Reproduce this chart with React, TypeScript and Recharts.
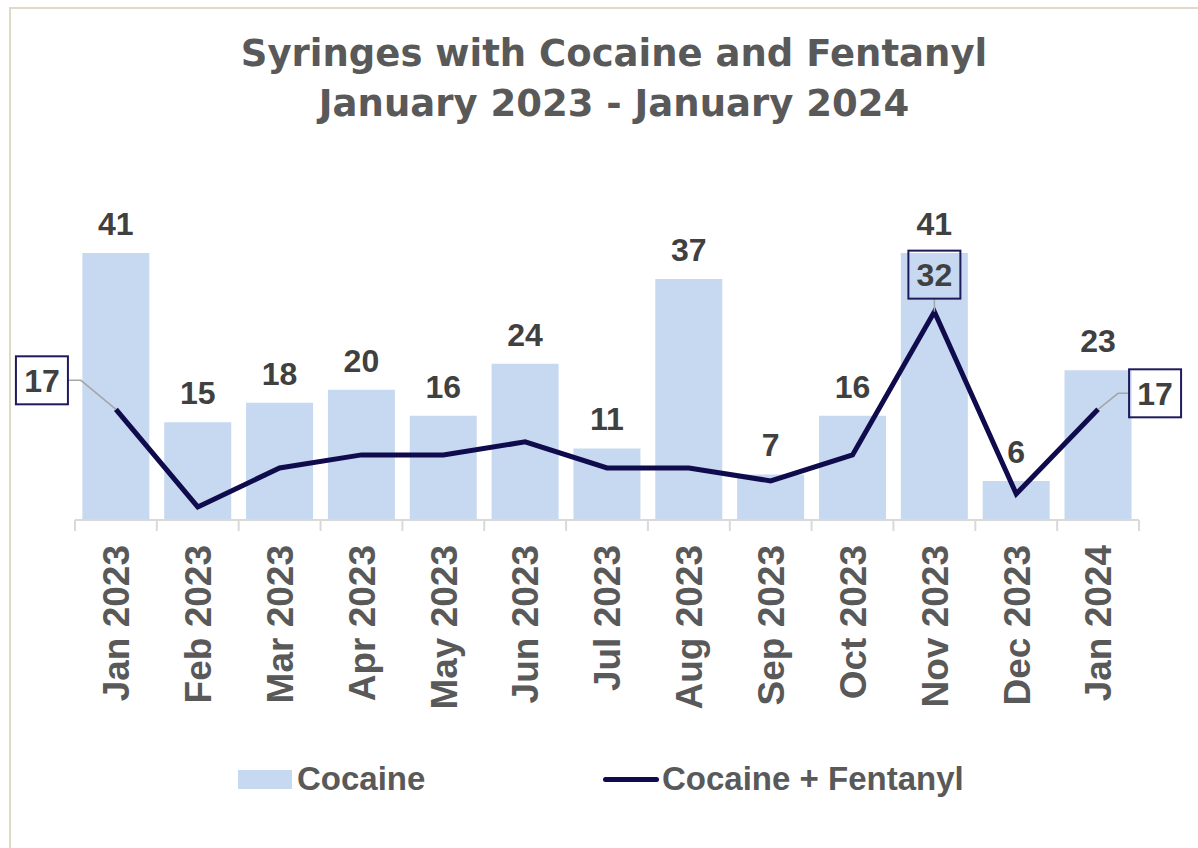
import React from "react";
import { ComposedChart, Bar, Line, XAxis, YAxis, LabelList } from "recharts";

const months = [
  "Jan 2023", "Feb 2023", "Mar 2023", "Apr 2023", "May 2023", "Jun 2023", "Jul 2023",
  "Aug 2023", "Sep 2023", "Oct 2023", "Nov 2023", "Dec 2023", "Jan 2024",
];
const cocaine = [41, 15, 18, 20, 16, 24, 11, 37, 7, 16, 41, 6, 23];
const cocaineFentanyl = [17, 2, 8, 10, 10, 12, 8, 8, 6, 10, 32, 4, 17];
const calloutIndexes = [0, 10, 12];

const data = months.map((m, i) => ({ month: m, cocaine: cocaine[i], cf: cocaineFentanyl[i] }));

const TITLE_FONT = "'Century Gothic', 'DejaVu Sans', sans-serif";
const FONT = "'Century Gothic', 'Liberation Sans', Arial, sans-serif";
const TEXT = "#595959";
const LABEL = "#404040";
const BAR = "#C6D9F0";
const LINE = "#0F0B4D";

const AxisTick = (props: any) => {
  const { x, y, payload, index } = props;
  const half = payload && payload.offset ? payload.offset : 41;
  const yAxis = 520;
  return (
    <g>
      <line x1={x - half} y1={yAxis} x2={x - half} y2={yAxis + 11} stroke="#D9D9D9" strokeWidth={2} />
      {index === months.length - 1 && (
        <line x1={x + half} y1={yAxis} x2={x + half} y2={yAxis + 11} stroke="#D9D9D9" strokeWidth={2} />
      )}
      <text
        x={x}
        y={y + 17}
        transform={`rotate(-90, ${x}, ${y + 17})`}
        textAnchor="end"
        dy="0.36em"
        fill={TEXT}
        fontSize={37}
        fontWeight={700}
        fontFamily={FONT}
      >
        {payload.value}
      </text>
    </g>
  );
};

const Callout = (props: any) => {
  const { x, y, index, value } = props;
  if (!calloutIndexes.includes(index)) return null;
  const w = 52;
  const h = 48;
  let bx = 0, by = 0, path = "";
  if (index === 0) {
    bx = x - 100; by = y - 53;
    path = `M${x},${y} L${x - 35},${y - 29} L${x - 48},${y - 29}`;
  } else if (index === months.length - 1) {
    bx = x + 31; by = y - 40;
    path = `M${x},${y} L${x + 20},${y - 16} L${x + 31},${y - 16}`;
  } else {
    bx = x - 26; by = y - 61;
    path = `M${x},${y} L${x},${y - 13}`;
  }
  return (
    <g>
      <path d={path} stroke="#A6A6A6" strokeWidth={1.5} fill="none" />
      <rect x={bx} y={by} width={w} height={h} fill="none" stroke="#1F1A5C" strokeWidth={2} />
      <text x={bx + w / 2} y={by + h / 2} dy="0.36em" textAnchor="middle" fill={LABEL} fontSize={32} fontWeight={700} fontFamily={FONT}>
        {value}
      </text>
    </g>
  );
};

export default function App() {
  return (
    <div style={{ position: "absolute", left: 0, top: 0, width: 1198, height: 848, background: "#fff" }}>
      <div style={{ position: "absolute", left: 9, top: 7, width: 1200, height: 860, borderTop: "2px solid #DEDAC6", borderLeft: "2px solid #DEDAC6" }} />
      <div
        style={{
          position: "absolute", left: 0, top: 29, width: 1228, textAlign: "center",
          fontFamily: TITLE_FONT, fontWeight: 700, fontSize: 37, color: TEXT, lineHeight: "50px",
        }}
      >
        <div>Syringes with Cocaine and Fentanyl</div>
        <div>January 2023 - January 2024</div>
      </div>
      <div style={{ position: "absolute", left: 0, top: 0 }}>
        <ComposedChart width={1198} height={848} data={data} margin={{ top: 227, right: 59, left: 75, bottom: 108 }} barCategoryGap="9%">
          <XAxis dataKey="month" interval={0} height={220} tickLine={false} axisLine={{ stroke: "#D9D9D9", strokeWidth: 2 }} tick={<AxisTick />} />
          <YAxis hide domain={[0, 45]} />
          <Bar dataKey="cocaine" name="Cocaine" fill={BAR} isAnimationActive={false}>
            <LabelList dataKey="cocaine" position="top" offset={18} fill={LABEL} fontSize={32} fontWeight={700} fontFamily={FONT} />
          </Bar>
          <Line dataKey="cf" name="Cocaine + Fentanyl" type="linear" stroke={LINE} strokeWidth={5} dot={false} isAnimationActive={false}>
            <LabelList dataKey="cf" content={<Callout />} />
          </Line>
        </ComposedChart>
      </div>
      <div style={{ position: "absolute", left: 238, top: 770, width: 54, height: 19, background: BAR }} />
      <div style={{ position: "absolute", left: 297, top: 760, fontFamily: FONT, fontWeight: 700, fontSize: 33, color: TEXT, lineHeight: "38px" }}>Cocaine</div>
      <div style={{ position: "absolute", left: 603, top: 777, width: 56, height: 5, borderRadius: 3, background: LINE }} />
      <div style={{ position: "absolute", left: 662, top: 760, fontFamily: FONT, fontWeight: 700, fontSize: 33, color: TEXT, lineHeight: "38px" }}>Cocaine + Fentanyl</div>
    </div>
  );
}
